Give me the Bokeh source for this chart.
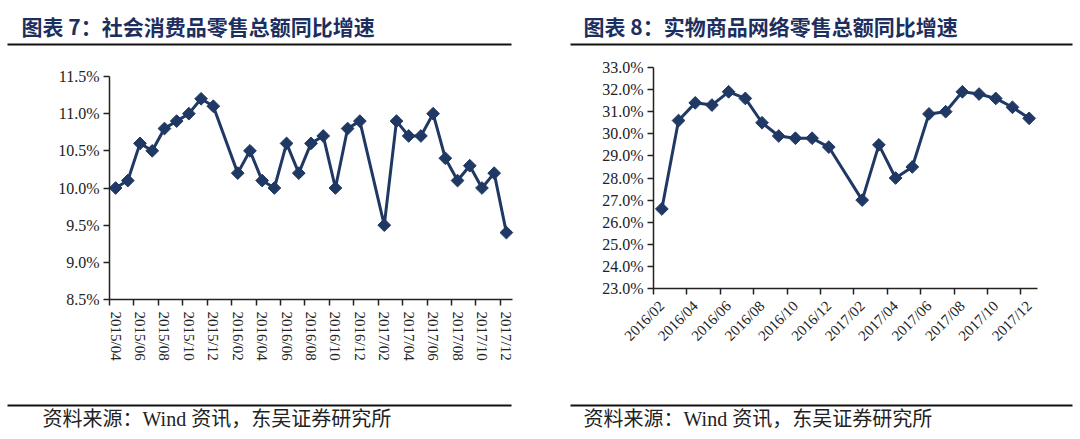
import math
from bokeh.plotting import figure
from bokeh.models import (Range1d, FixedTicker, LinearAxis, PrintfTickFormatter,
                          Label, BoxAnnotation)
from bokeh.embed import file_html
from bokeh.resources import INLINE

# ---------------- data ----------------
left_title = "图表 7：社会消费品零售总额同比增速"
right_title = "图表 8：实物商品网络零售总额同比增速"
source_text = "资料来源：Wind 资讯，东吴证券研究所"

left_start = "2015/04"
left_end = "2017/12"
left_months = ["2015/04", "2015/05", "2015/06", "2015/07", "2015/08", "2015/09",
               "2015/10", "2015/11", "2015/12",
               "2016/02", "2016/03", "2016/04", "2016/05", "2016/06", "2016/07",
               "2016/08", "2016/09", "2016/10", "2016/11", "2016/12",
               "2017/02", "2017/03", "2017/04", "2017/05", "2017/06", "2017/07",
               "2017/08", "2017/09", "2017/10", "2017/11", "2017/12"]
left_values = [10.0, 10.1, 10.6, 10.5, 10.8, 10.9, 11.0, 11.2, 11.1,
               10.2, 10.5, 10.1, 10.0, 10.6, 10.2, 10.6, 10.7, 10.0, 10.8, 10.9,
               9.5, 10.9, 10.7, 10.7, 11.0, 10.4, 10.1, 10.3, 10.0, 10.2, 9.4]
left_tick_labels = ["2015/04", "2015/06", "2015/08", "2015/10", "2015/12",
                    "2016/02", "2016/04", "2016/06", "2016/08", "2016/10", "2016/12",
                    "2017/02", "2017/04", "2017/06", "2017/08", "2017/10", "2017/12"]
left_y_ticks = [8.5, 9.0, 9.5, 10.0, 10.5, 11.0, 11.5]

right_start = "2016/02"
right_end = "2017/12"
right_months = ["2016/02", "2016/03", "2016/04", "2016/05", "2016/06", "2016/07",
                "2016/08", "2016/09", "2016/10", "2016/11", "2016/12",
                "2017/02", "2017/03", "2017/04", "2017/05", "2017/06", "2017/07",
                "2017/08", "2017/09", "2017/10", "2017/11", "2017/12"]
right_values = [26.6, 30.6, 31.4, 31.3, 31.9, 31.6, 30.5, 29.9, 29.8, 29.8, 29.4,
                27.0, 29.5, 28.0, 28.5, 30.9, 31.0, 31.9, 31.8, 31.6, 31.2, 30.7]
right_tick_labels = ["2016/02", "2016/04", "2016/06", "2016/08", "2016/10", "2016/12",
                     "2017/02", "2017/04", "2017/06", "2017/08", "2017/10", "2017/12"]
right_y_ticks = [23.0, 24.0, 25.0, 26.0, 27.0, 28.0, 29.0, 30.0, 31.0, 32.0, 33.0]

# ---------------- layout / style ----------------
W, H = 1080, 439
NAVY = "#1f3864"
AXIS = "#222222"
TITLE_C = "#1c2f5f"
# plot rectangles on the canvas: (left, right, top, bottom) in pixels
LEFT_BOX = (109, 512, 76, 299)
RIGHT_BOX = (653, 1037, 67, 288)


def month_index(m, start):
    y, mo = map(int, m.split("/"))
    sy, sm = map(int, start.split("/"))
    return (y - sy) * 12 + (mo - sm)


def ranges_for(box, x0, x1, y0, y1):
    """Ranges of the full canvas so that [x0,x1]x[y0,y1] lands in box."""
    l, r, t, b = box
    kx = (r - l) / (x1 - x0)
    ky = (b - t) / (y1 - y0)
    xr = Range1d(x0 - l / kx, x1 + (W - r) / kx)
    yr = Range1d(y0 - (H - b) / ky, y1 + t / ky)
    return xr, yr


left_ncat = month_index(left_end, left_start) + 1
right_ncat = month_index(right_end, right_start) + 1
lxr, lyr = ranges_for(LEFT_BOX, 0, left_ncat, left_y_ticks[0], left_y_ticks[-1])
rxr, ryr = ranges_for(RIGHT_BOX, 0, right_ncat, right_y_ticks[0], right_y_ticks[-1])

p = figure(width=W, height=H, output_backend="svg", toolbar_location=None,
           x_range=lxr, y_range=lyr,
           x_axis_location=None, y_axis_location=None,
           min_border=0, min_border_left=0, min_border_right=0,
           min_border_top=0, min_border_bottom=0)
p.extra_x_ranges = {"r": rxr}
p.extra_y_ranges = {"r": ryr}
p.outline_line_color = None
p.grid.visible = False
p.background_fill_color = "white"
p.border_fill_color = "white"


def add_axes(rname, y_ticks, tick_labels, start, ncat, orientation, standoff):
    kw = {} if rname is None else dict(x_range_name=rname, y_range_name=rname)
    ya = LinearAxis(fixed_location=0, bounds=(y_ticks[0], y_ticks[-1]),
                    ticker=FixedTicker(ticks=y_ticks),
                    formatter=PrintfTickFormatter(format="%.1f%%"),
                    axis_line_color=AXIS, axis_line_width=1.5,
                    major_tick_line_color=AXIS, major_tick_line_width=1.5,
                    major_tick_in=0, major_tick_out=6,
                    minor_tick_line_color=None,
                    major_label_text_font="Liberation Serif",
                    major_label_text_font_size="16px",
                    major_label_text_color=AXIS,
                    major_label_standoff=4, **kw)
    p.add_layout(ya, "left")

    centers = [month_index(t, start) + 0.5 for t in tick_labels]
    bounds = [month_index(t, start) for t in tick_labels]
    xa = LinearAxis(fixed_location=y_ticks[0], bounds=(0, ncat),
                    ticker=FixedTicker(ticks=centers, minor_ticks=bounds),
                    major_label_overrides={c: t for c, t in zip(centers, tick_labels)},
                    axis_line_color=AXIS, axis_line_width=1.5,
                    major_tick_line_color=None, major_tick_out=6, major_tick_in=0,
                    minor_tick_line_color=AXIS, minor_tick_line_width=1.5,
                    minor_tick_out=6, minor_tick_in=0,
                    major_label_orientation=orientation,
                    major_label_standoff=standoff,
                    major_label_text_font="Liberation Serif",
                    major_label_text_font_size="15px",
                    major_label_text_color=AXIS, **kw)
    p.add_layout(xa, "below")


add_axes(None, left_y_ticks, left_tick_labels, left_start, left_ncat, "vertical", 6)
add_axes("r", right_y_ticks, right_tick_labels, right_start, right_ncat, math.pi / 4, 9)

# series
lx = [month_index(m, left_start) + 0.5 for m in left_months]
p.line(lx, left_values, line_color=NAVY, line_width=3, line_join="round")
p.scatter(lx, left_values, marker="square", size=9, angle=math.pi / 4,
          fill_color=NAVY, line_color=NAVY)

rx = [month_index(m, right_start) + 0.5 for m in right_months]
p.line(rx, right_values, line_color=NAVY, line_width=3, line_join="round",
       x_range_name="r", y_range_name="r")
p.scatter(rx, right_values, marker="square", size=9, angle=math.pi / 4,
          fill_color=NAVY, line_color=NAVY, x_range_name="r", y_range_name="r")


# titles, sources and rules (canvas pixel positions -> screen units from bottom-left)
def text_at(x, y, text, font, size, color, style="normal"):
    p.add_layout(Label(x=x, y=H - y, x_units="screen", y_units="screen",
                       text=text, text_font=font, text_font_size=size,
                       text_font_style=style, text_color=color,
                       text_baseline="middle", text_align="left"))


def rule(x0, x1, y0, y1):
    p.add_layout(BoxAnnotation(left=x0, right=x1, top=H - y0, bottom=H - y1,
                               left_units="screen", right_units="screen",
                               top_units="screen", bottom_units="screen",
                               fill_color="#111111", fill_alpha=1.0,
                               line_color=None))


text_at(21, 25, left_title, "Noto Sans CJK SC", "21px", TITLE_C, "bold")
text_at(583, 25, right_title, "Noto Sans CJK SC", "21px", TITLE_C, "bold")
src_font = "'Liberation Serif', 'Noto Sans CJK SC'"
text_at(42, 418, source_text, src_font, "20px", "#222222")
text_at(583, 418, source_text, src_font, "20px", "#222222")
rule(7, 511, 43, 45)
rule(570, 1072, 43, 45)
rule(7, 511, 404, 406)
rule(570, 1072, 404, 406)

open("out.html", "w").write(file_html(p, INLINE))
